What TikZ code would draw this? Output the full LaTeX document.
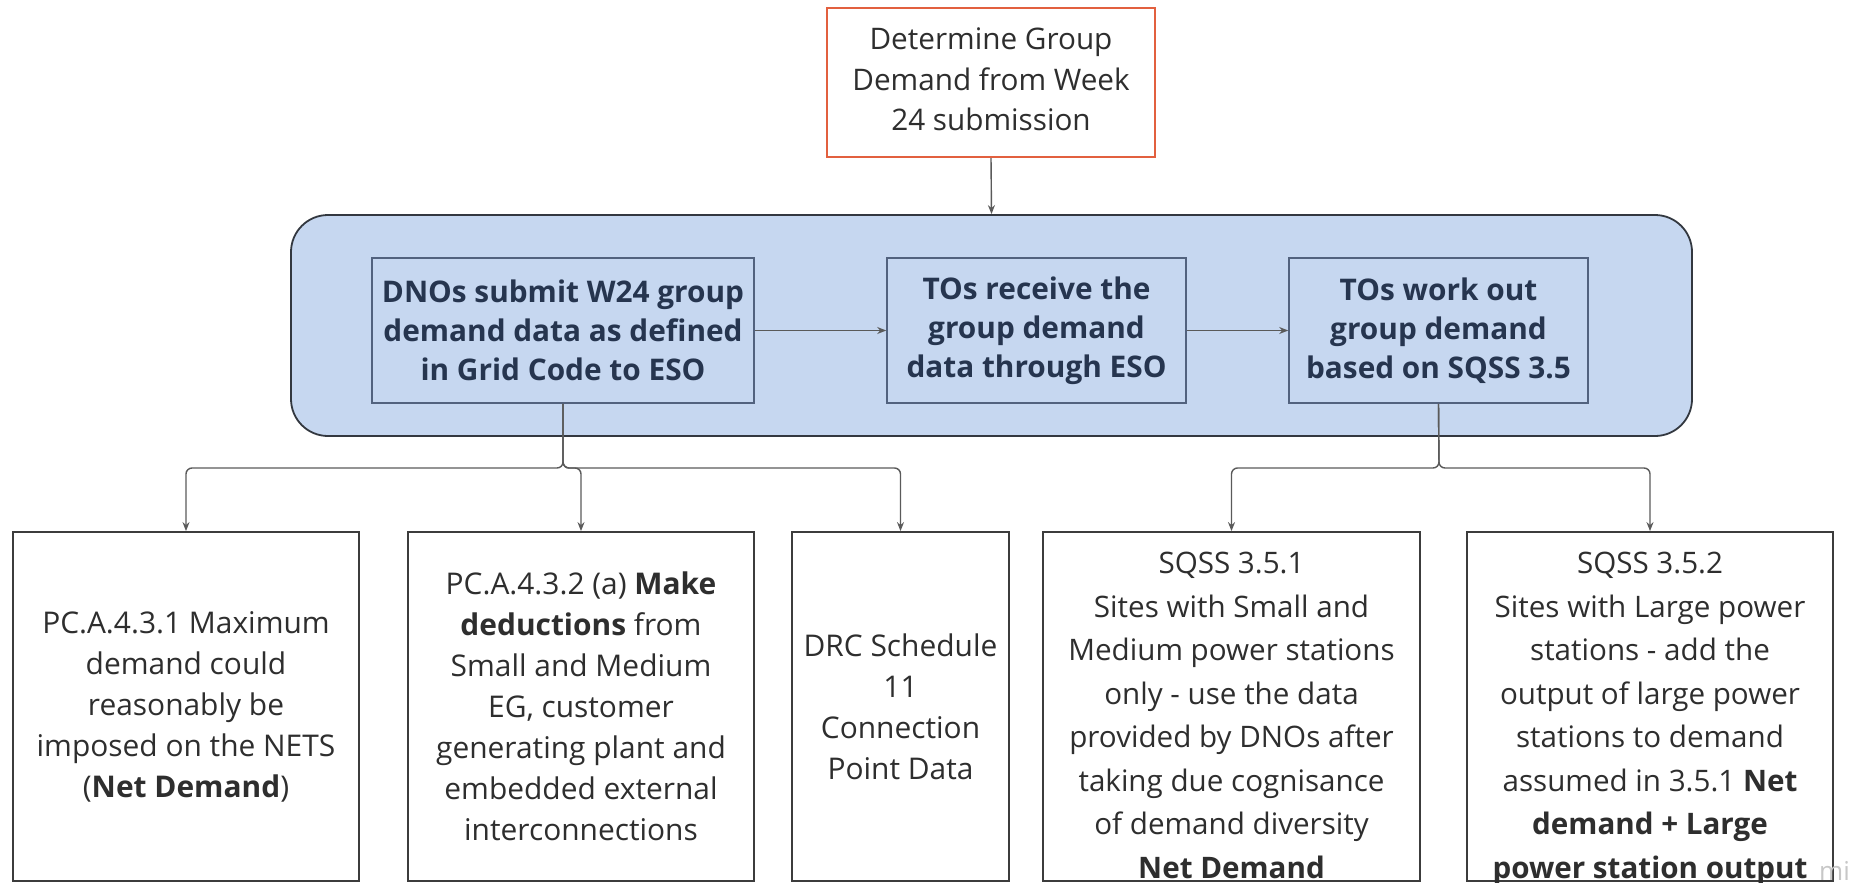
\documentclass[tikz,border=0pt]{standalone}
\usepackage{fontspec}
\setmainfont{Open Sans}
\usetikzlibrary{arrows.meta}

\definecolor{groupfill}{HTML}{C6D7F0}
\definecolor{groupline}{HTML}{333840}
\definecolor{innerline}{HTML}{52627E}
\definecolor{innertext}{HTML}{26354F}
\definecolor{startline}{HTML}{E2603F}
\definecolor{bodytext}{HTML}{2E2E2E}
\definecolor{boxline}{HTML}{3C3C3C}
\definecolor{connline}{HTML}{5A5A5A}

\tikzset{
  startbox/.style={draw=startline, line width=2.4pt, fill=white, inner sep=0pt,
    align=center, text=bodytext, font=\fontsize{29.7}{40.7}\selectfont},
  groupbox/.style={draw=groupline, line width=1.8pt, fill=groupfill,
    rounded corners=37pt, inner sep=0pt},
  stagebox/.style={draw=innerline, line width=1.6pt, fill=groupfill, inner sep=0pt,
    align=center, text=innertext, font=\bfseries\fontsize{29.8}{39}\selectfont},
  outbox/.style={draw=boxline, line width=1.8pt, fill=white, inner sep=0pt,
    align=center, text=bodytext, font=\fontsize{29.9}{41}\selectfont},
  outtext/.style={inner sep=0pt, align=center, text=bodytext,
    font=\fontsize{29.6}{43.5}\selectfont},
  conn/.style={draw=connline, line width=1.4pt, rounded corners=6pt,
    -{Stealth[length=9pt,width=7pt]}},
}

\begin{document}
\begin{tikzpicture}[x=1pt,y=-1pt]
\useasboundingbox (0,0) rectangle (1850,883);
\clip (0,0) rectangle (1850,883);

% starting step
\node[startbox, minimum width=328pt, minimum height=149pt] (start) at (991,82.5) {};
\node[startbox, draw=none, fill=none] (startt) at (991,79.5)
  {Determine Group\\Demand from Week\\24 submission};

% group of the three processing stages
\node[groupbox, minimum width=1401pt, minimum height=221pt] (group) at (991.5,325.5) {};
\node[stagebox, minimum width=382pt, minimum height=145pt] (dno) at (563,330.5)
  {DNOs submit W24 group\\demand data as defined\\in Grid Code to ESO};
\node[stagebox, minimum width=299pt, minimum height=145pt] (recv) at (1036.5,330.5)
  {TOs receive the\\group demand\\data through ESO};
\node[stagebox, minimum width=299pt, minimum height=145pt] (work) at (1438.5,330.5)
  {TOs work out\\group demand\\based on SQSS 3.5};

% outcome boxes
\node[outbox, minimum width=346pt, minimum height=349pt] (b1) at (186,706.5)
  {PC.A.4.3.1 Maximum\\demand could\\reasonably be\\imposed on the NETS\\(\textbf{Net Demand})};
\node[outbox, minimum width=346pt, minimum height=349pt] (b2) at (581,706.5)
  {PC.A.4.3.2 (a) \textbf{Make}\\\textbf{deductions} from\\Small and Medium\\EG, customer\\generating plant and\\embedded external\\interconnections};
\node[outbox, minimum width=217pt, minimum height=349pt] (b3) at (900.5,706.5)
  {DRC Schedule\\11\\Connection\\Point Data};
\node[outbox, minimum width=377pt, minimum height=349pt] (b4) at (1231.5,706.5) {};
\node[outbox, minimum width=366pt, minimum height=349pt] (b5) at (1650,706.5) {};
\node[outtext, anchor=north] (b4t) at ([yshift=-21pt]b4.north)
  {SQSS 3.5.1\\Sites with Small and\\Medium power stations\\only - use the data\\provided by DNOs after\\taking due cognisance\\of demand diversity\\\textbf{Net Demand}};
\node[outtext, anchor=north] (b5t) at ([yshift=-21pt]b5.north)
  {SQSS 3.5.2\\Sites with Large power\\stations - add the\\output of large power\\stations to demand\\assumed in 3.5.1 \textbf{Net}\\\textbf{demand + Large}\\\textbf{power station output}};

% branch levels
\coordinate (busL) at (563,468);
\coordinate (busR) at (1439,468);

% connectors
\draw[conn] (start.south) -- (group.north);
\draw[conn] (dno.east) -- (recv.west);
\draw[conn] (recv.east) -- (work.west);
\draw[conn] (dno.south) -- (busL) -| (b1.north);
\draw[conn] (dno.south) -- (busL) -| (b2.north);
\draw[conn] (dno.south) -- (busL) -| (b3.north);
\draw[conn] (work.south) -- (busR) -| (b4.north);
\draw[conn] (work.south) -- (busR) -| (b5.north);

% watermark
\node[text=black!22, font=\fontsize{26}{26}\selectfont, anchor=north west, inner sep=0pt]
  (mark) at (1819,861) {miro};
\end{tikzpicture}
\end{document}
